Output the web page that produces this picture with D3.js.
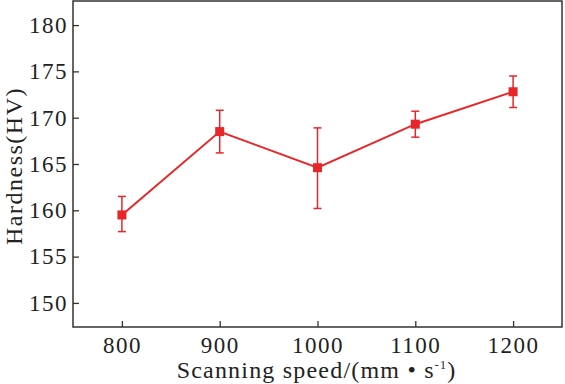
<!DOCTYPE html>
<html>
<head>
<meta charset="utf-8">
<script src="https://cdn.jsdelivr.net/npm/d3@7"></script>
<style>
  body { margin: 0; background: #fff; }
  text { font-family: "Liberation Serif", "Times New Roman", serif; fill: #222; }
</style>
</head>
<body>
<div id="chart"></div>
<script>
var speeds = [800, 900, 1000, 1100, 1200];
var hardness = [159.5, 168.5, 164.6, 169.3, 172.8];
var errTop = [161.5, 170.8, 168.9, 170.7, 174.5];
var errBottom = [157.7, 166.2, 160.2, 167.9, 171.1];
var yTicks = [150, 155, 160, 165, 170, 175, 180];

var width = 565, height = 384;
var margin = {top: 1, right: 3, bottom: 57, left: 73};
var chartWidth = width - margin.left - margin.right;
var chartHeight = height - margin.top - margin.bottom;

var svg = d3.select('#chart').append('svg')
            .attr('width', width)
            .attr('height', height)
            .append('g')
                .attr('transform', `translate(${margin.left}, ${margin.top})`);

var xScale = d3.scaleLinear()
              .domain([750, 1250])
              .range([0, chartWidth]);

var yScale = d3.scaleLinear()
              .domain([147.4, 182.6])
              .range([chartHeight, 0]);

var xAxis = d3.axisBottom(xScale)
              .tickValues(speeds)
              .tickFormat(d3.format('d'))
              .tickSize(-6)
              .tickSizeOuter(0)
              .tickPadding(10);

var yAxis = d3.axisLeft(yScale)
              .tickValues(yTicks)
              .tickFormat(d3.format('d'))
              .tickSize(-6)
              .tickSizeOuter(0)
              .tickPadding(5);

svg.append('g')
    .attr('class', 'x axis')
    .attr('transform', `translate(0,${chartHeight})`)
    .call(xAxis);

svg.append('g')
    .attr('class', 'y axis')
    .call(yAxis);

svg.selectAll('.axis')
    .attr('font-family', '"Liberation Serif", "Times New Roman", serif')
    .attr('font-size', 23);
svg.selectAll('.axis text').style('fill', '#222').style('letter-spacing', '1.5px');
svg.selectAll('.axis line').style('stroke', '#333').style('stroke-width', 1.3);
svg.selectAll('.axis .domain').remove();

// frame box
svg.append('rect')
    .attr('x', 0).attr('y', 0)
    .attr('width', chartWidth).attr('height', chartHeight)
    .attr('fill', 'none')
    .attr('stroke', '#333')
    .attr('stroke-width', 1.5);

var red = '#e8262a';
var data = speeds.map((s, i) => ({s: s, v: hardness[i], hi: errTop[i], lo: errBottom[i]}));

// error bars
var eb = svg.selectAll('.err').data(data).enter().append('g').attr('class', 'err')
    .attr('stroke', red).attr('stroke-width', 1.5);
eb.append('line')
    .attr('x1', d => xScale(d.s)).attr('x2', d => xScale(d.s))
    .attr('y1', d => yScale(d.hi)).attr('y2', d => yScale(d.lo));
eb.append('line')
    .attr('x1', d => xScale(d.s) - 4).attr('x2', d => xScale(d.s) + 4)
    .attr('y1', d => yScale(d.hi)).attr('y2', d => yScale(d.hi));
eb.append('line')
    .attr('x1', d => xScale(d.s) - 4).attr('x2', d => xScale(d.s) + 4)
    .attr('y1', d => yScale(d.lo)).attr('y2', d => yScale(d.lo));

var line = d3.line().x(d => xScale(d.s)).y(d => yScale(d.v));
svg.append('path')
    .datum(data)
    .attr('d', line)
    .attr('fill', 'none')
    .attr('stroke', red)
    .attr('stroke-width', 2);

svg.selectAll('.pt').data(data).enter().append('rect')
    .attr('class', 'pt')
    .attr('x', d => xScale(d.s) - 4.5)
    .attr('y', d => yScale(d.v) - 4.5)
    .attr('width', 9).attr('height', 9)
    .attr('fill', red);

// axis titles
svg.append('text')
    .attr('x', chartWidth / 2 - 1)
    .attr('y', chartHeight + 51)
    .attr('text-anchor', 'middle')
    .style('font-size', '24px')
    .style('letter-spacing', '1.2px')
    .html('Scanning speed/(mm \u2022 s<tspan dy="-9" font-size="12">-1</tspan><tspan dy="9">)</tspan>');

svg.append('text')
    .attr('transform', `translate(${-51}, ${chartHeight / 2 + 2}) rotate(-90)`)
    .attr('text-anchor', 'middle')
    .style('font-size', '24px')
    .style('letter-spacing', '1.5px')
    .text('Hardness(HV)');
</script>
</body>
</html>
